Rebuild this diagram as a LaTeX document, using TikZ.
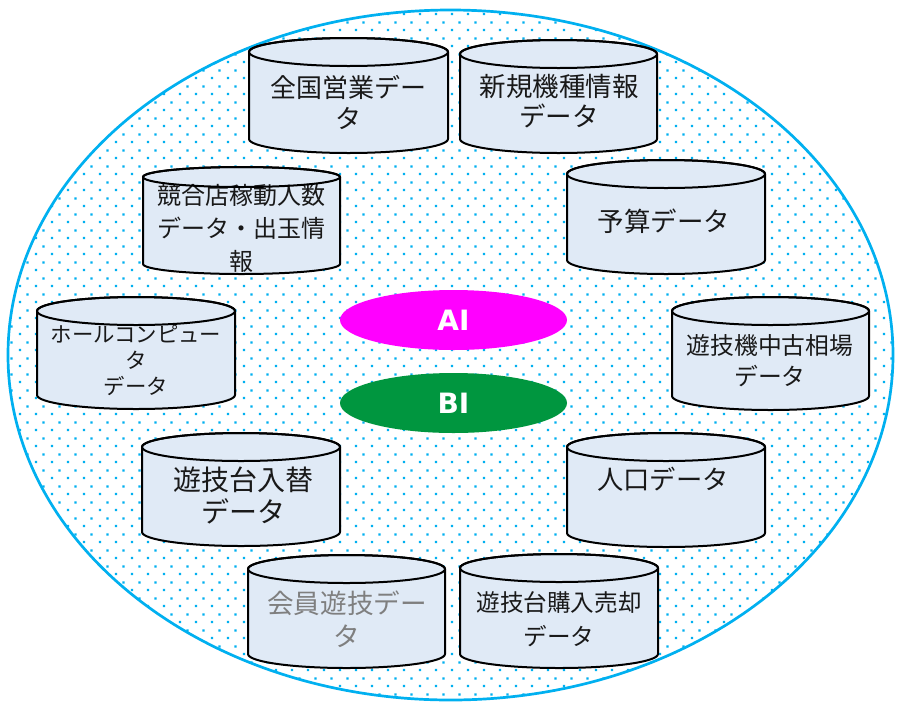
\documentclass[tikz,border=0pt]{standalone}
\usepackage{fontspec}
\setmainfont{Noto Sans CJK JP}
\newfontfamily\latbold{DejaVu Sans}
\usetikzlibrary{patterns,shapes.geometric}
\definecolor{dotblue}{HTML}{00B0F0}
\definecolor{cylfill}{HTML}{E0EAF6}
\definecolor{aimag}{HTML}{FF00FF}
\definecolor{bigreen}{HTML}{00963F}
\definecolor{txtgray}{HTML}{7F7F7F}
\pgfdeclarepatternformonly{bluedots}{\pgfqpoint{0pt}{0pt}}{\pgfqpoint{16pt}{16pt}}{\pgfqpoint{16pt}{16pt}}{%
  \pgfpathrectangle{\pgfqpoint{3pt}{3pt}}{\pgfqpoint{2.4pt}{2.4pt}}%
  \pgfpathrectangle{\pgfqpoint{11pt}{11pt}}{\pgfqpoint{2.4pt}{2.4pt}}%
  \pgfusepath{fill}}
\tikzset{
  cylbody/.style={fill=cylfill, draw=black, line width=2pt, line join=round},
  cylline/.style={draw=black, line width=2pt},
  dbtext/.style={align=center, inner sep=0pt, text=black!90},
  hub/.style={ellipse, inner sep=0pt, text=white, font=\latbold\bfseries\fontsize{28}{30}\selectfont}
}
\newcommand\cylry{14}
\newcommand\dbcyl[5]{%
  \pgfmathsetmacro\cxa{(#2+#3)/2}%
  \pgfmathsetmacro\rxa{(#3-#2)/2}%
  \pgfmathsetmacro\yta{#4+\cylry}%
  \pgfmathsetmacro\yba{#5-\cylry}%
  \pgfmathsetmacro\ymid{(#4+#5)/2}%
  \path[cylbody] (#2,\yta) -- (#2,\yba) arc[start angle=180,end angle=0,x radius=\rxa,y radius=\cylry] -- (#3,\yta) arc[start angle=0,end angle=-180,x radius=\rxa,y radius=\cylry] -- cycle;
  \coordinate (#1) at (\cxa,\ymid);
  \coordinate (#1top) at (\cxa,\yta);
}
\newcommand\cylcap[3]{% name, rx, ry
  \draw[cylline] (#1top) ellipse[x radius=#2, y radius=#3];
}
\begin{document}
\begin{tikzpicture}[x=1pt,y=-1pt]
\useasboundingbox (0,0) rectangle (899,705);
\fill[white] (0,0) rectangle (899,705);
% outer ellipse with dots
\path[pattern=bluedots, pattern color=dotblue] (450.5,355) ellipse[x radius=442.5, y radius=345];
\draw[dotblue, line width=2.7pt] (450.5,355) ellipse[x radius=442.5, y radius=345];
\coordinate (outer) at (450.5,355);

% cylinders
\renewcommand\cylry{14}
\dbcyl{c1}{249}{448}{38}{153}
\node[dbtext, font=\fontsize{26}{31}\selectfont] (t1) at (348,102) {全国営業デー\\タ};
\cylcap{c1}{99.5}{14}

\dbcyl{c2}{460}{657}{40}{153}
\node[dbtext, font=\fontsize{26.5}{30}\selectfont] (t2) at (559,101) {新規機種情報\\データ};
\cylcap{c2}{98.5}{14}

\renewcommand\cylry{10}
\dbcyl{c3}{143}{340}{167}{274}
\node[dbtext, font=\fontsize{24}{33}\selectfont] (t3) at (241,228) {競合店稼動人数\\データ・出玉情\\報};
\cylcap{c3}{98.5}{10}

\renewcommand\cylry{14}
\dbcyl{c4}{567}{765}{160}{274}
\node[dbtext, font=\fontsize{26.5}{30}\selectfont] (t4) at (664,221) {予算データ};
\cylcap{c4}{99}{14}

\dbcyl{c5}{37}{235}{297}{409}
\node[dbtext, font=\fontsize{21.4}{26}\selectfont] (t5) at (136,360) {ホールコンピュー\\タ\\データ};
\cylcap{c5}{99}{14}

\dbcyl{c6}{672}{869}{297}{410}
\node[dbtext, font=\fontsize{23.8}{31}\selectfont] (t6) at (770,361) {遊技機中古相場\\データ};
\cylcap{c6}{98.5}{14}

\dbcyl{c7}{142}{340}{433}{546}
\node[dbtext, font=\fontsize{28}{32}\selectfont] (t7) at (243,495) {遊技台入替\\データ};
\cylcap{c7}{99}{14}

\dbcyl{c8}{567}{765}{433}{547}
\node[dbtext, font=\fontsize{26.3}{30}\selectfont] (t8) at (663,479) {人口データ};
\cylcap{c8}{99}{14}

\dbcyl{c9}{248}{445}{555}{668}
\node[dbtext, text=txtgray, font=\fontsize{26.6}{33}\selectfont] (t9) at (347,619) {会員遊技デー\\タ};
\cylcap{c9}{98.5}{14}

\dbcyl{c10}{460}{658}{554}{668}
\node[dbtext, font=\fontsize{23.6}{34}\selectfont] (t10) at (559,619) {遊技台購入売却\\データ};
\cylcap{c10}{99}{14}

% AI / BI
\node[hub, fill=aimag, minimum width=227pt, minimum height=60pt] (ai) at (453.5,320) {AI};
\node[hub, fill=bigreen, minimum width=227pt, minimum height=60pt] (bi) at (453.5,403) {BI};
\end{tikzpicture}
\end{document}
